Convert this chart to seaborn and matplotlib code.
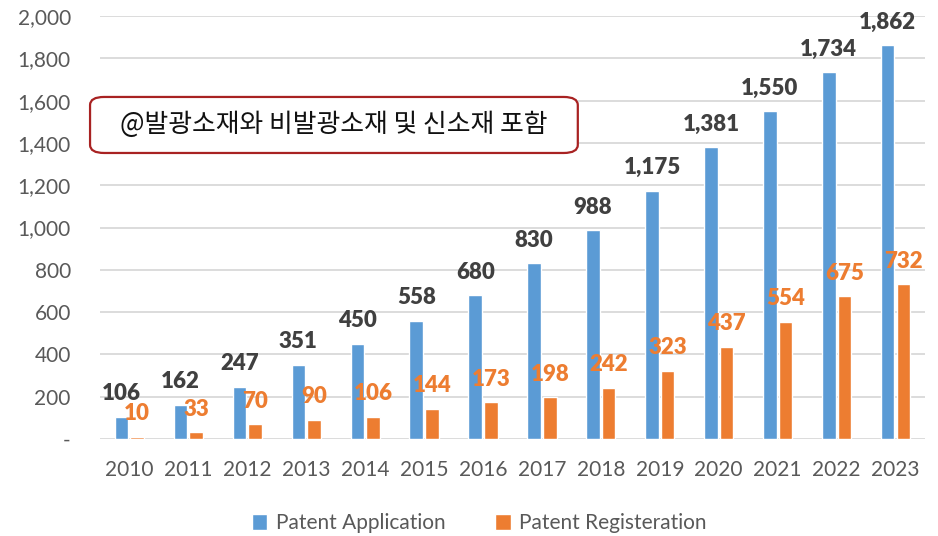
import matplotlib
matplotlib.use("Agg")
import matplotlib.pyplot as plt
from matplotlib.patches import FancyBboxPatch
import seaborn as sns
import pandas as pd

years = [str(y) for y in range(2010, 2024)]
application = [106, 162, 247, 351, 450, 558, 680, 830, 988, 1175, 1381, 1550, 1734, 1862]
registration = [10, 33, 70, 90, 106, 144, 173, 198, 242, 323, 437, 554, 675, 732]
series = ["Patent Application", "Patent Registeration"]
note = "@발광소재와 비발광소재 및 신소재 포함"

df = pd.DataFrame({
    "year": years * 2,
    "value": application + registration,
    "series": [series[0]] * len(years) + [series[1]] * len(years),
})

sns.set_style("white")
plt.rcParams["font.family"] = ["Lato", "Noto Sans CJK KR", "DejaVu Sans"]

fig = plt.figure(figsize=(9.38, 5.36), dpi=100)
ax = fig.add_axes([0.1066, 0.181, 0.8795, 0.789])

sns.barplot(data=df, x="year", y="value", hue="series",
            palette=["#5B9BD5", "#ED7D31"], width=0.53, gap=0.13,
            saturation=1, ax=ax, legend=True)

ax.set_ylim(0, 2000)
ax.set_xlim(-0.5, len(years) - 0.5)
yt = list(range(0, 2001, 200))
ax.set_yticks(yt)
ax.set_yticklabels(["-"] + [f"{v:,}" for v in yt[1:]])
ax.grid(axis="y", color="#D9D9D9", linewidth=1.3)
ax.set_axisbelow(True)
for s in ax.spines.values():
    s.set_visible(False)
ax.tick_params(axis="both", length=0, labelsize=15, colors="#595959")
ax.tick_params(axis="y", pad=21)
ax.tick_params(axis="x", pad=15)
ax.set_xlabel("")
ax.set_ylabel("")

ax.bar_label(ax.containers[0], fmt="{:,.0f}", padding=9,
             fontsize=16, fontweight="heavy", color="#404040")
ax.bar_label(ax.containers[1], fmt="{:,.0f}", padding=9,
             fontsize=16, fontweight="heavy", color="#ED7D31")

handles, labels = ax.get_legend_handles_labels()
ax.get_legend().remove()
fig.legend(handles, labels, loc="center", bbox_to_anchor=(0.511, 0.024),
           ncol=2, frameon=False, fontsize=15, labelcolor="#595959",
           handlelength=0.75, handleheight=0.75, handletextpad=0.4,
           columnspacing=2.4)

box = FancyBboxPatch((0.096, 0.7146), 0.520, 0.1045, transform=fig.transFigure,
                     boxstyle="round,pad=0,rounding_size=0.015",
                     facecolor="white", edgecolor="#A82222", linewidth=1.6,
                     zorder=5)
fig.patches.append(box)
fig.text(0.128, 0.767, note, fontsize=18.6, va="center", ha="left",
         color="#111111", family=["Noto Sans CJK KR", "DejaVu Sans"], zorder=6)

fig.savefig("out.png", dpi=100)
